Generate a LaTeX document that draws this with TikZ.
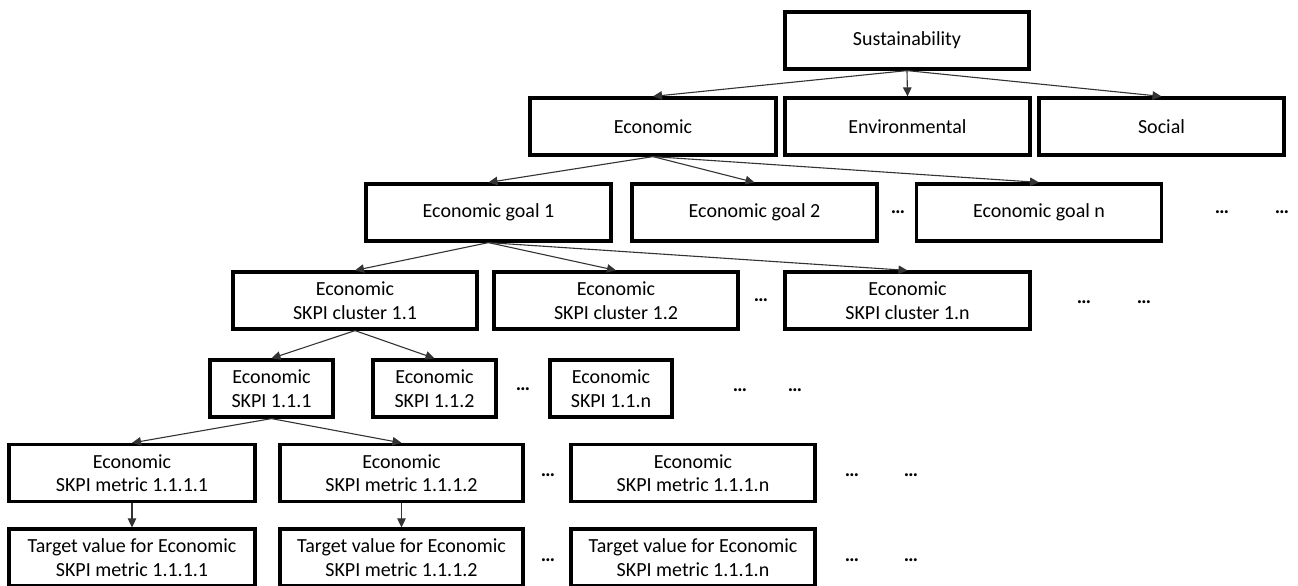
\documentclass[tikz,border=0pt]{standalone}
\usepackage{fontspec}
\setmainfont{Carlito}
\usetikzlibrary{arrows.meta}
\tikzset{
  box/.style={draw=black, line width=3.2bp, minimum height=57bp, inner sep=0pt, align=center,
    font=\fontsize{20bp}{23.5bp}\selectfont, text=black},
  conn/.style={draw=black!80, line width=1.1bp, -{Triangle[length=9bp,width=8.5bp]}},
  dotsnode/.style={inner sep=0pt, font=\fontsize{20bp}{23.5bp}\selectfont\bfseries, text=black}
}
\begin{document}
\begin{tikzpicture}[x=1bp,y=-1bp]
\useasboundingbox (0,0) rectangle (1298,586);
% row 0
\node[box, minimum width=244bp] (sus) at (907,40.5) {Sustainability};
% row 1
\node[box, minimum width=246bp] (eco) at (653,126.5) {Economic};
\node[box, minimum width=245bp] (env) at (907.5,126.5) {Environmental};
\node[box, minimum width=245bp] (soc) at (1161.5,126.5) {Social};
% row 2
\node[box, minimum width=245bp] (g1) at (488.5,212.5) {Economic goal 1};
\node[box, minimum width=245bp] (g2) at (754.5,212.5) {Economic goal 2};
\node[box, minimum width=245bp] (gn) at (1039,212.5) {Economic goal n};
\node[dotsnode] (d21) at (898,212) {…};
\node[dotsnode] (d22) at (1222,212) {…};
\node[dotsnode] (d23) at (1282,212) {…};
% row 3
\node[box, minimum width=244bp] (c11) at (355,300.5) {Economic\\SKPI cluster 1.1};
\node[box, minimum width=244bp] (c12) at (616,300.5) {Economic\\SKPI cluster 1.2};
\node[box, minimum width=245bp] (c1n) at (907.5,300.5) {Economic\\SKPI cluster 1.n};
\node[dotsnode] (d31) at (761,300) {…};
\node[dotsnode] (d32) at (1084,302) {…};
\node[dotsnode] (d33) at (1144,302) {…};
% row 4
\node[box, minimum width=123bp] (k111) at (271.5,388.5) {Economic\\SKPI 1.1.1};
\node[box, minimum width=123bp] (k112) at (434.5,388.5) {Economic\\SKPI 1.1.2};
\node[box, minimum width=122bp] (k11n) at (611,388.5) {Economic\\SKPI 1.1.n};
\node[dotsnode] (d41) at (523,389) {…};
\node[dotsnode] (d42) at (740,390) {…};
\node[dotsnode] (d43) at (795,390) {…};
% row 5
\node[box, minimum width=246bp] (m1) at (132,473) {Economic\\SKPI metric 1.1.1.1};
\node[box, minimum width=243bp] (m2) at (401.5,473) {Economic\\SKPI metric 1.1.1.2};
\node[box, minimum width=244bp] (mn) at (693,473) {Economic\\SKPI metric 1.1.1.n};
\node[dotsnode] (d51) at (548,475) {…};
\node[dotsnode] (d52) at (852,475) {…};
\node[dotsnode] (d53) at (911,475) {…};
% row 6
\node[box, minimum width=246bp] (t1) at (132,557.5) {Target value for Economic\\SKPI metric 1.1.1.1};
\node[box, minimum width=243bp] (t2) at (401.5,557.5) {Target value for Economic\\SKPI metric 1.1.1.2};
\node[box, minimum width=244bp] (tn) at (693,557.5) {Target value for Economic\\SKPI metric 1.1.1.n};
\node[dotsnode] (d61) at (548,560) {…};
\node[dotsnode] (d62) at (852,560) {…};
\node[dotsnode] (d63) at (911,560) {…};
% connectors
\draw[conn] (sus.south) -- (eco.north);
\draw[conn] (sus.south) -- (env.north);
\draw[conn] (sus.south) -- (soc.north);
\draw[conn] (eco.south) -- (g1.north);
\draw[conn] (eco.south) -- (g2.north);
\draw[conn] (eco.south) -- (gn.north);
\draw[conn] (g1.south) -- (c11.north);
\draw[conn] (g1.south) -- (c12.north);
\draw[conn] (g1.south) -- (c1n.north);
\draw[conn] (c11.south) -- (k111.north);
\draw[conn] (c11.south) -- (k112.north);
\draw[conn] (k111.south) -- (m1.north);
\draw[conn] (k111.south) -- (m2.north);
\draw[conn] (m1.south) -- (t1.north);
\draw[conn] (m2.south) -- (t2.north);
\end{tikzpicture}
\end{document}
